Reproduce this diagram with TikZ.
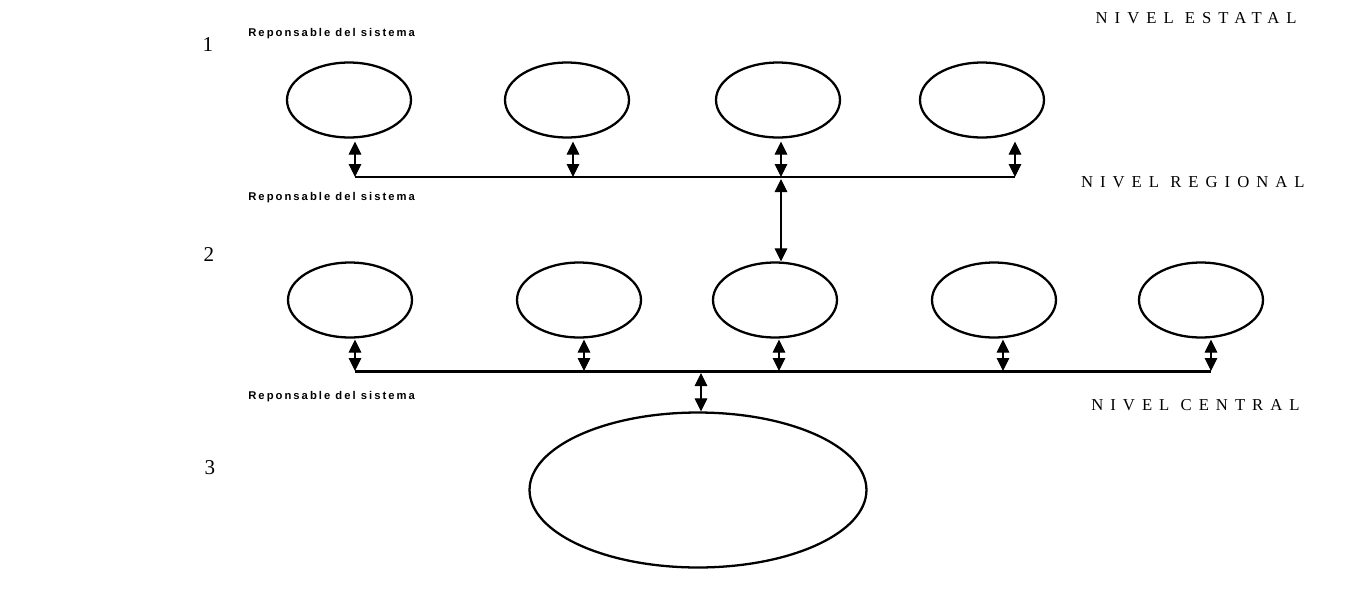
\documentclass[tikz,border=0pt]{standalone}
\usepackage{fontspec}
\setmainfont{Liberation Serif}
\newfontfamily\respfont{Liberation Sans}[LetterSpace=18]
\newfontfamily\nivelfont{Liberation Serif}[LetterSpace=42]
\usetikzlibrary{shapes.geometric, arrows.meta, positioning}

\begin{document}
\begin{tikzpicture}[
    x=0.02cm, y=-0.02cm,
    >={Triangle[width=7.2pt,length=7.4pt]},
    unit/.style={draw, ellipse, line width=1.3pt,
        minimum width=2.48cm, minimum height=1.5cm},
    central/.style={draw, ellipse, line width=1.3pt,
        minimum width=6.74cm, minimum height=3.1cm},
    bus/.style={line width=1.7pt},
    link/.style={<->, line width=0.6pt},
    resplabel/.style={anchor=west, font=\respfont\bfseries\fontsize{6.4}{7}\selectfont, inner sep=0pt},
    nivellabel/.style={anchor=east, font=\nivelfont\fontsize{9.5}{10}\selectfont, inner sep=0pt},
    numlabel/.style={font=\fontsize{12}{13}\selectfont, inner sep=0pt}
]
\useasboundingbox (0,0) rectangle (1347,596);

% Level numbers
\node[numlabel] (n1) at (208,45) {1};
\node[numlabel] (n2) at (209,255) {2};
\node[numlabel] (n3) at (210,468) {3};

% Level names
\node[nivellabel] (estatal) at (1297,18) {NIVEL ESTATAL};
\node[nivellabel] (regional) at (1305,182) {NIVEL REGIONAL};
\node[nivellabel] (centralname) at (1300,405) {NIVEL CENTRAL};

% Responsables
\node[resplabel] (resp1) at (248,34) {Reponsable del sistema};
\node[resplabel] (resp2) at (248,198) {Reponsable del sistema};
\node[resplabel] (resp3) at (248,397) {Reponsable del sistema};

% Nodes, first row
\foreach \i/\x in {1/349, 2/567, 3/778, 4/982}
    \node[unit] (e1\i) at (\x,100) {};
% Nodes, second row
\foreach \i/\x in {1/350, 2/579, 3/775, 4/994, 5/1201}
    \node[unit] (e2\i) at (\x,300) {};
\node[central] (big) at (698,490) {};

% Bus points
\foreach \i/\x in {1/355, 2/573, 3/781, 4/1015}
    \coordinate (b1\i) at (\x,177);
\foreach \i/\x in {1/355, 2/584, 3/779, 4/1003, 5/1211}
    \coordinate (b2\i) at (\x,371);
\coordinate (m2) at (701,371);

% Paths
\draw[bus] (b11) -- (b14);
\draw[bus] (b21) -- (b25);
\foreach \i in {1,...,4}
    \draw[link] (b1\i |- e1\i.south) ++(0,3) -- (b1\i);
\foreach \i in {1,...,5}
    \draw[link] (b2\i |- e2\i.south) ++(0,1) -- (b2\i);
\draw[link] (b13) ++(0,2) -- (b13 |- e23.north);
\draw[link] (m2) ++(0,2) -- (m2 |- big.north);

\end{tikzpicture}
\end{document}
